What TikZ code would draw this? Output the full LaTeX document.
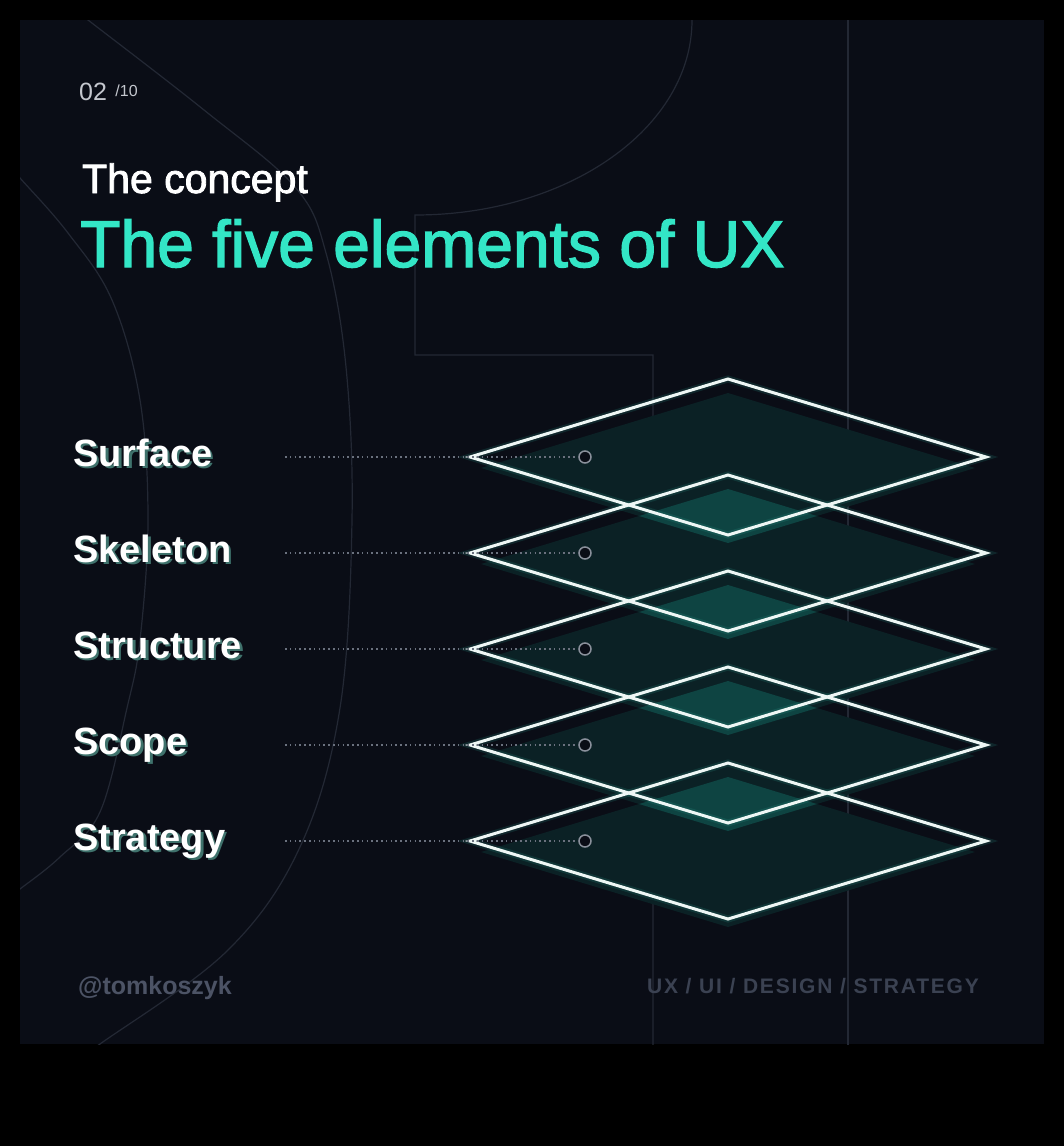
\documentclass[tikz,border=0pt]{standalone}
\usepackage{fontspec}
\setmainfont{Liberation Sans}
\newfontfamily\tagfont[LetterSpace=8.5]{Liberation Sans}
\newfontfamily\headfont[FakeBold=2]{Liberation Sans}

\definecolor{panel}{HTML}{0A0D16}
\definecolor{faint}{HTML}{232834}
\definecolor{mint}{HTML}{33E6C6}
\definecolor{layerfill}{HTML}{0B2125}
\definecolor{layerlap}{HTML}{0E4442}
\definecolor{layerglowc}{HTML}{2A9A8C}
\definecolor{edgewhite}{HTML}{EEF7F5}
\definecolor{shade}{HTML}{3F726C}
\definecolor{ringgray}{HTML}{8A909B}
\definecolor{dotgray}{HTML}{6A717E}
\definecolor{handlegray}{HTML}{4C5365}
\definecolor{taggray}{HTML}{3B4252}
\definecolor{pagegray}{HTML}{C4C7CE}

\begin{document}
\begin{tikzpicture}[x=1pt,y=-1pt]

    \tikzset{
      faintline/.style={color={faint}, line width=1.2pt},
      layeredge/.style={color={edgewhite}, line width=3pt},
      layerglow/.style={color={layerglowc}, line width=7pt, opacity=0.18},
      leader/.style={color={dotgray}, line width=1.6pt, dash pattern=on 1.6pt off 3.2pt},
      ring/.style={
        circle,
        draw={ringgray},
        fill={panel},
        line width=1.5pt,
        inner sep=0pt,
        minimum size=12pt,
      },
      layername/.style={anchor=base west, inner sep=0pt, text={white},
        font=\bfseries\fontsize{38}{42}\selectfont},
      layershadow/.style={layername, text={shade}},
    }
    \useasboundingbox (0,0) rectangle (1064,1146);
    \fill[color={black}] (0,0) rectangle (1064,1146);
    \fill[color={panel}] (20,20) rectangle (1044,1044);

    % background glyph outlines
    \begin{scope}
      \clip (20,20) rectangle (1044,1044);
      \draw[faintline] plot[smooth, tension=0.6] coordinates {(75,10) (88,20) (204,110) (295,187) (326,253) (346,367) (352,520) (340,708) (300,847) (227,951) (100,1044) (85,1054)};
      \draw[faintline] plot[smooth, tension=0.6] coordinates {(10,167) (20,178) (68,233) (112,300) (140,400) (148,520) (140,640) (127,708) (100,812) (60,857) (20,889) (10,896)};
      \draw[faintline] (692,10) -- (692,20) .. controls (692,128) and (568,215) .. (415,215) -- (415,355) -- (653,355) -- (653,1050);
      \draw[faintline] (848,10) -- (848,1050);
    \end{scope}

    % texts
    \node[anchor=base west, inner sep=0pt, text={pagegray}, font=\fontsize{25}{28}\selectfont] (num) at (79,100) {02};
    \node[anchor=base west, inner sep=0pt, text={pagegray}, font=\fontsize{16}{18}\selectfont] (total) at ([xshift=8pt,yshift=4pt]num.base east) {/10};
    \node[anchor=base west, inner sep=0pt, text={white}, font=\headfont\fontsize{41}{45}\selectfont] (kicker) at (82,193) {The concept};
    \node[anchor=base west, inner sep=0pt, text={mint}, font=\headfont\fontsize{66}{70}\selectfont] (title) at (80,267) {The five elements of UX};
    \node[anchor=base west, inner sep=0pt, text={handlegray}, font=\bfseries\fontsize{25}{28}\selectfont] (handle) at (78,994) {@tomkoszyk};
    \node[anchor=base east, inner sep=0pt, text={taggray}, font=\tagfont\bfseries\fontsize{21}{24}\selectfont] (tags) at (979,993) {UX / UI / DESIGN / STRATEGY};

    % layer fills
    \foreach \c in {457,553,649,745,841} {
      \fill[color={layerfill}] (481,\c+11) -- (728,\c-64) -- (975,\c+11) -- (728,\c+86) -- cycle;
    }
    \foreach \c in {457,553,649,745} {
      \begin{scope}
        \clip (481,\c+11) -- (728,\c-64) -- (975,\c+11) -- (728,\c+86) -- cycle;
        \fill[color={layerlap}] (481,\c+107) -- (728,\c+32) -- (975,\c+107) -- (728,\c+182) -- cycle;
      \end{scope}
    }
    % layer outlines
    \foreach \c in {457,553,649,745,841} {
      \draw[layerglow] (470,\c) -- (728,\c-78) -- (986,\c) -- (728,\c+78) -- cycle;
    }
    \foreach \c in {457,553,649,745,841} {
      \draw[layeredge] (470,\c) -- (728,\c-78) -- (986,\c) -- (728,\c+78) -- cycle;
    }

    % names, leaders and rings
    \foreach \layer/\c in {Surface/457,Skeleton/553,Structure/649,Scope/745,Strategy/841} {
      \coordinate (lead\layer) at (285,\c);
      \node[ring] (ring\layer) at (585,\c) {};
      \draw[leader] (lead\layer) -- (ring\layer);
      \node[layershadow] (shadow\layer) at (75.5,\c+11.5) {\layer};
      \node[layername] (name\layer) at (73,\c+9) {\layer};
    }

\end{tikzpicture}
\end{document}
